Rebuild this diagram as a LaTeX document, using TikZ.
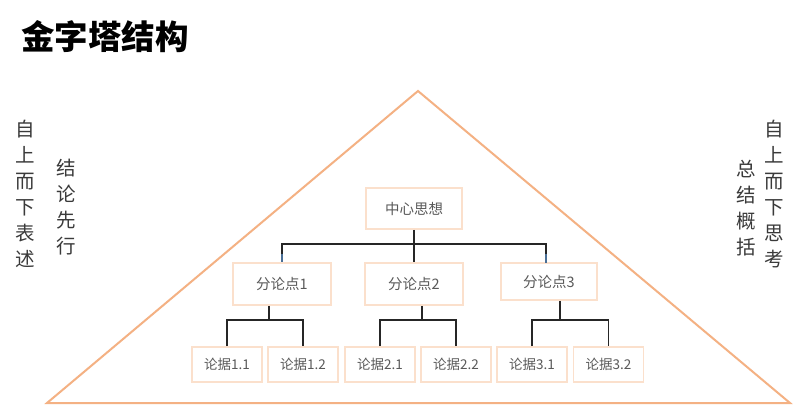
\documentclass[tikz,border=0pt]{standalone}
\usepackage{fontspec}
\setmainfont{Noto Sans CJK SC}
\newfontfamily\cjk{Noto Sans CJK SC}
\definecolor{tri}{HTML}{F4B183}
\definecolor{boxline}{HTML}{FBE0CC}
\definecolor{txt}{HTML}{595959}
\definecolor{vtxt}{HTML}{3A3A3A}
\definecolor{bluel}{HTML}{4A6F96}
\begin{document}
\begin{tikzpicture}[x=1pt,y=-1pt,
  bx/.style={draw=boxline,line width=1.6pt,fill=white,inner sep=0pt,text=txt,font=\cjk\fontsize{14.5}{15}\selectfont},
  topbox/.style={bx,minimum width=96pt,minimum height=41pt},
  midbox/.style={bx,minimum width=98pt,minimum height=42pt},
  lowbox/.style={bx,minimum width=70pt,minimum height=35pt,font=\cjk\fontsize{13.5}{14}\selectfont},
  conn/.style={draw=black!85,line width=1.1pt},
  vtext/.style={align=center,text=vtxt,inner sep=0pt,anchor=north,font=\cjk\fontsize{19.5}{26}\selectfont}]
\useasboundingbox (0,0) rectangle (800,405);
\fill[white] (0,0) rectangle (800,405);
% title
\node[anchor=west,inner sep=0pt,font=\cjk\bfseries\fontsize{33.5}{34}\selectfont] (title) at (21,37) {金字塔结构};
% triangle
\draw[tri,line width=2pt,line join=miter] (47,403) -- (418,91) -- (790,403) -- cycle;
% side texts
\node[vtext] (l1) at (25,120) {自\\上\\而\\下\\表\\述};
\node[vtext] (l2) at (66,159) {结\\论\\先\\行};
\node[vtext] (r1) at (774,120) {自\\上\\而\\下\\思\\考};
\node[vtext] (r2) at (746,160) {总\\结\\概\\括};
% boxes
\node[topbox] (c) at (414,208.5) {中心思想};
\node[midbox] (p1) at (282,284) {分论点1};
\node[midbox] (p2) at (414,284) {分论点2};
\node[topbox,minimum height=37pt] (p3) at (549,281.5) {分论点3};
\node[lowbox] (a11) at (227,364.5) {论据1.1};
\node[lowbox] (a12) at (303,364.5) {论据1.2};
\node[lowbox] (a21) at (380,364.5) {论据2.1};
\node[lowbox] (a22) at (456,364.5) {论据2.2};
\node[lowbox] (a31) at (532,364.5) {论据3.1};
\node[lowbox] (a32) at (608.5,364.5) {论据3.2};
% top connectors
\coordinate (bus) at (414,244);
\draw[conn] (c.south) -- (bus);
\draw[conn] (bus) -| (282,254);
\draw[conn] (bus) -| (546,254);
\draw[draw=bluel,line width=1.1pt] (282,254) -- (p1.north);
\draw[draw=bluel,line width=1.1pt] (546,254) -- (546,263);
\draw[conn] (bus) -- (p2.north);
% lower connectors
\coordinate (f1) at (269,320);
\coordinate (f2) at (422,320);
\coordinate (f3) at (560,320);
\draw[conn] (f1 |- p1.south) -- (f1);
\draw[conn] (a11.north) |- (f1) -| (a12.north);
\draw[conn] (f2 |- p2.south) -- (f2);
\draw[conn] (a21.north) |- (f2) -| (a22.north);
\draw[conn] (f3 |- p3.south) -- (f3);
\draw[conn] (a31.north) |- (f3) -| (a32.north);
\end{tikzpicture}
\end{document}
